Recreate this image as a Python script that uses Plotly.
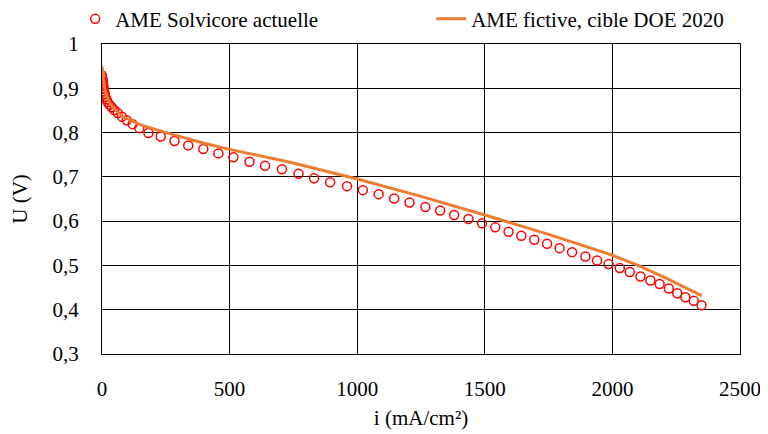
import plotly.graph_objects as go

# Measured cell (markers)
i_meas = [0, 1, 3, 4, 5, 7, 8, 11, 13, 17, 22, 29, 38, 48, 62, 78, 97, 120, 146,
          182, 230, 284, 338, 397, 456, 515, 578, 639, 705,
          770, 831, 894, 960, 1022, 1084, 1145, 1205, 1267, 1325, 1380, 1436, 1489, 1541,
          1593, 1643, 1694, 1744, 1793, 1842, 1894, 1940, 1985, 2029, 2068, 2110, 2149,
          2185, 2221, 2254, 2286, 2319, 2349]
u_meas = [0.929, 0.923, 0.917, 0.911, 0.905, 0.899, 0.893, 0.887, 0.881, 0.875, 0.869,
          0.863, 0.857, 0.851, 0.844, 0.836, 0.828, 0.819, 0.810,
          0.799, 0.791, 0.781, 0.771, 0.763, 0.753, 0.744, 0.734, 0.725, 0.717,
          0.707, 0.697, 0.688, 0.679, 0.670, 0.661, 0.651, 0.642, 0.632, 0.624, 0.614,
          0.605, 0.595, 0.586,
          0.576, 0.567, 0.558, 0.549, 0.539, 0.530, 0.520, 0.511, 0.503, 0.494, 0.485,
          0.475, 0.466, 0.458, 0.448, 0.437, 0.428, 0.420, 0.410]

# Fictive MEA, DOE 2020 target (line)
i_doe = [0, 5, 10, 20, 31, 50, 84, 150, 214, 300, 400, 500, 737, 1000, 1250, 1500,
         1750, 2000, 2100, 2200, 2350]
u_doe = [0.950, 0.920, 0.900, 0.880, 0.866, 0.852, 0.835, 0.818, 0.806, 0.792, 0.776,
         0.762, 0.733, 0.695, 0.656, 0.614, 0.570, 0.523, 0.500, 0.474, 0.432]

name_meas = "AME Solvicore actuelle"
name_doe = "AME fictive, cible DOE 2020"

FONT = "Liberation Serif"
FS = 21

fig = go.Figure()
fig.add_trace(go.Scatter(
    x=i_meas, y=u_meas, mode="markers", name=name_meas,
    marker=dict(symbol="circle-open", size=9, color="#FF0000", line=dict(width=1.5, color="#FF0000")),
))
fig.add_trace(go.Scatter(
    x=i_doe, y=u_doe, mode="lines", name=name_doe,
    line=dict(color="#ED7D31", width=3),
))

fig.update_layout(
    width=760, height=426,
    margin=dict(l=94, r=28, t=36, b=80, autoexpand=False),
    paper_bgcolor="white", plot_bgcolor="white",
    separators=",",
    font=dict(family=FONT, size=FS, color="#000000"),
    showlegend=True,
    legend=dict(orientation="h", x=-0.042, xanchor="left", y=1.08, yanchor="middle",
                font=dict(family=FONT, size=21), bgcolor="rgba(0,0,0,0)",
                itemwidth=30, entrywidth=311, tracegroupgap=0),
)

fig.update_xaxes(
    range=[0, 2500], dtick=500, tick0=0,
    showgrid=True, gridcolor="#000000", gridwidth=1,
    showline=True, linecolor="#000000", linewidth=1, mirror=True,
    zeroline=False, ticks="", ticklabelstandoff=16,
    tickfont=dict(family=FONT, size=FS),
    title=dict(text="i (mA/cm²)", font=dict(family=FONT, size=FS), standoff=10),
)
fig.update_yaxes(
    range=[0.3, 1.0], dtick=0.1, tick0=0.3,
    showgrid=True, gridcolor="#000000", gridwidth=1,
    showline=True, linecolor="#000000", linewidth=1, mirror=True,
    zeroline=False, ticks="", ticklabelstandoff=18,
    tickfont=dict(family=FONT, size=FS),
    title=dict(text="U (V)", font=dict(family=FONT, size=FS), standoff=22),
)

fig.write_html("out.html")
